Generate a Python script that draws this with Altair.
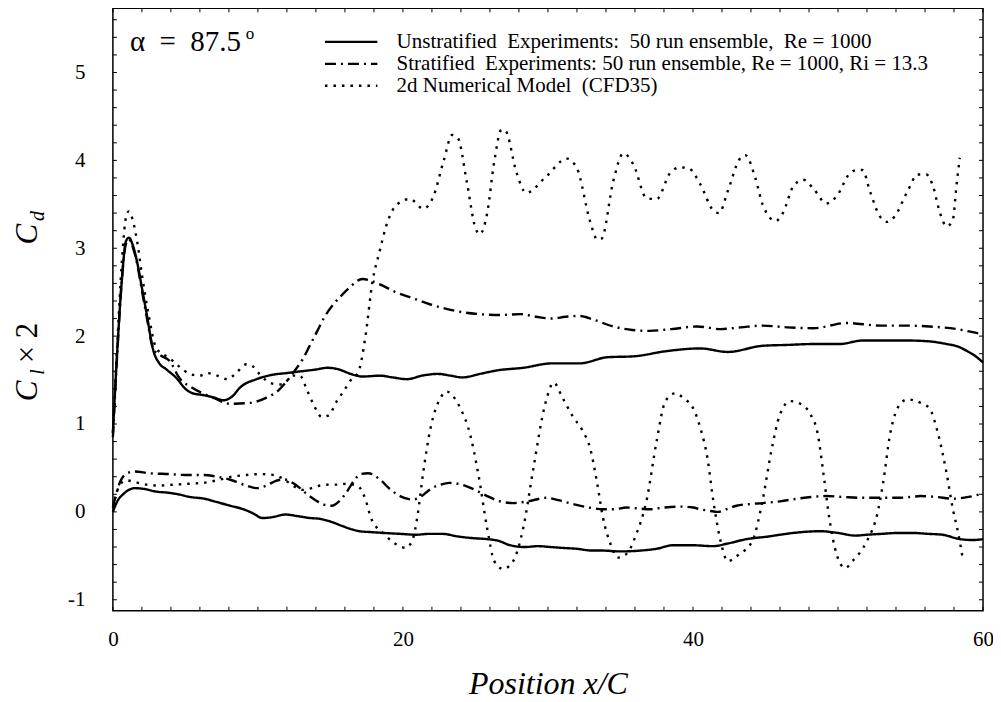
import altair as alt
import pandas as pd

# ---------------- data ----------------
series_names = [
    "Unstratified\u00a0\u00a0Experiments:\u00a0\u00a050 run ensemble,\u00a0\u00a0Re = 1000",
    "Stratified\u00a0\u00a0Experiments: 50 run ensemble, Re = 1000, Ri = 13.3",
    "2d Numerical Model\u00a0\u00a0(CFD35)",
]

# Unstratified, drag
uns_cd_x = [0, 0.3, 0.6, 0.9, 1.1, 1.4, 1.7, 2.0, 2.3, 2.8, 3.2, 3.7, 4.4, 5.0, 5.5, 6.2, 7.0, 7.6,
            8.2, 8.8, 9.9, 11.0, 12.0, 13.0, 14.0, 14.8, 15.6, 16.4, 17.2, 18.4, 19.3, 20.3, 21.3,
            22.4, 23.3, 24.1, 25.3, 26.5, 28.3, 30.3, 32.2, 34.1, 35.9, 38.2, 40.5, 42.4, 44.8,
            46.5, 48.3, 50.1, 51.7, 53.5, 54.8, 56.3, 57.5, 58.3, 58.9, 59.5, 60.0]
uns_cd_y = [0.9, 1.83, 2.6, 3.08, 3.12, 3.02, 2.82, 2.55, 2.28, 1.83, 1.69, 1.62, 1.52, 1.40, 1.35,
            1.33, 1.30, 1.27, 1.31, 1.42, 1.51, 1.56, 1.58, 1.60, 1.62, 1.64, 1.62, 1.57, 1.54,
            1.55, 1.53, 1.51, 1.55, 1.57, 1.55, 1.53, 1.57, 1.61, 1.64, 1.69, 1.69, 1.76, 1.77,
            1.83, 1.86, 1.82, 1.89, 1.90, 1.91, 1.91, 1.95, 1.95, 1.95, 1.94, 1.91, 1.88, 1.83,
            1.77, 1.70]

# Stratified, drag
str_cd_x = [0, 0.3, 0.6, 0.9, 1.1, 1.4, 1.7, 2.0, 2.3, 2.8, 3.3, 3.9, 4.6, 5.5, 6.9, 8.1, 9.4,
            10.6, 11.4, 12.0, 12.6, 13.1, 13.6, 14.1, 14.6, 15.2, 15.8, 16.3, 17.2, 18.4, 19.5,
            20.7, 21.9, 23.0, 24.2, 25.3, 26.7, 28.1, 29.2, 30.3, 31.2, 32.2, 33.1, 34.5, 35.8,
            37.0, 38.5, 40.3, 41.9, 43.3, 44.8, 46.5, 48.3, 50.6, 52.9, 54.5, 56.3, 58.2, 59.7, 60.0]
str_cd_y = [0.85, 1.8, 2.6, 3.05, 3.1, 3.0, 2.8, 2.52, 2.25, 1.85, 1.78, 1.72, 1.52, 1.41, 1.30,
            1.23, 1.24, 1.30, 1.38, 1.49, 1.62, 1.74, 1.90, 2.06, 2.22, 2.36, 2.47, 2.55, 2.65,
            2.59, 2.50, 2.43, 2.36, 2.31, 2.27, 2.25, 2.24, 2.25, 2.22, 2.20, 2.22, 2.23, 2.19,
            2.11, 2.07, 2.06, 2.08, 2.11, 2.08, 2.10, 2.12, 2.10, 2.09, 2.15, 2.12, 2.12, 2.11,
            2.08, 2.03, 2.02]

# Numerical model, drag
num_cd_x = [0, 0.3, 0.6, 0.9, 1.1, 1.4, 1.7, 2.0, 2.4, 3.0, 3.9, 4.6, 5.3, 6.0, 6.5, 7.2, 7.9,
            8.5, 9.2, 9.7, 10.1, 11.0, 11.7, 12.4, 12.9, 13.4, 13.9, 14.4, 14.9, 15.4, 15.9,
            16.5, 16.9, 17.4, 17.9, 18.4, 18.8, 19.6, 20.5, 21.4, 22.1, 22.8, 23.4, 23.8, 24.4,
            25.0, 25.3, 25.8, 26.3, 26.8, 27.1, 27.8, 28.5, 29.9, 31.3, 32.0, 32.9, 33.4, 33.7,
            34.5, 35.2, 35.9, 36.8, 37.5, 38.4, 39.1, 39.7, 40.5, 41.4, 41.8, 42.4, 43.2, 43.6,
            44.3, 44.8, 45.7, 46.2, 46.9, 47.6, 48.3, 49.2, 49.9, 50.8, 51.3, 51.7, 52.2, 52.9,
            53.4, 53.9, 54.8, 55.5, 56.1, 56.6, 57.0, 57.5, 57.9, 58.2, 58.4]
num_cd_y = [0.9, 1.9, 2.8, 3.35, 3.42, 3.3, 3.05, 2.7, 2.3, 1.86, 1.75, 1.65, 1.57, 1.55, 1.58,
            1.55, 1.51, 1.58, 1.68, 1.65, 1.57, 1.46, 1.45, 1.55, 1.55, 1.38, 1.20, 1.08, 1.10,
            1.25, 1.37, 1.52, 1.58, 1.98, 2.62, 2.97, 3.23, 3.50, 3.56, 3.45, 3.59, 3.99, 4.29,
            4.25, 3.76, 3.23, 3.16, 3.39, 3.99, 4.35, 4.33, 3.88, 3.63, 3.82, 4.02, 3.91, 3.31,
            3.10, 3.11, 3.76, 4.08, 3.95, 3.57, 3.56, 3.85, 3.92, 3.91, 3.73, 3.43, 3.40, 3.65,
            4.01, 4.06, 3.80, 3.50, 3.31, 3.40, 3.70, 3.78, 3.68, 3.51, 3.59, 3.85, 3.89, 3.89,
            3.65, 3.36, 3.30, 3.36, 3.65, 3.84, 3.84, 3.68, 3.42, 3.25, 3.31, 3.76, 4.03]

# Unstratified, lift x 2
uns_cl_x = [0, 0.3, 0.7, 1.1, 1.5, 2.2, 3.0, 3.7, 4.5, 5.3, 6.3, 7.2, 8.1, 9.0, 9.7, 10.3, 11.0,
            11.9, 12.8, 13.6, 14.3, 15.0, 15.8, 16.5, 17.0, 17.8, 18.7, 19.8, 20.9, 21.8, 22.7,
            23.8, 24.9, 25.8, 26.6, 27.4, 28.4, 29.3, 30.2, 31.0, 32.0, 33.0, 33.7, 35.0, 36.4,
            37.5, 38.6, 40.0, 41.4, 42.4, 43.7, 45.2, 46.0, 47.5, 48.8, 50.0, 51.2, 52.0, 53.0,
            54.1, 55.2, 56.2, 57.2, 58.4, 59.3, 60.0]
uns_cl_y = [0.0, 0.12, 0.2, 0.25, 0.27, 0.26, 0.23, 0.22, 0.20, 0.17, 0.15, 0.11, 0.07, 0.03,
            -0.02, -0.07, -0.06, -0.03, -0.05, -0.07, -0.08, -0.11, -0.16, -0.20, -0.22, -0.23,
            -0.24, -0.25, -0.26, -0.25, -0.25, -0.28, -0.30, -0.31, -0.33, -0.38, -0.40, -0.39,
            -0.40, -0.41, -0.42, -0.44, -0.44, -0.45, -0.44, -0.42, -0.38, -0.38, -0.39, -0.36,
            -0.31, -0.28, -0.26, -0.23, -0.22, -0.24, -0.27, -0.26, -0.25, -0.24, -0.24, -0.25,
            -0.26, -0.31, -0.32, -0.31]

# Stratified, lift x 2
str_cl_x = [0, 0.4, 0.9, 1.5, 2.5, 3.9, 5.0, 6.2, 7.2, 8.2, 9.2, 9.9, 10.6, 11.2, 11.8, 12.5,
            13.4, 14.0, 14.6, 15.1, 15.6, 16.1, 16.6, 17.1, 17.6, 18.4, 19.1, 19.8, 20.7, 21.3,
            21.9, 22.6, 23.2, 23.8, 24.4, 25.1, 25.8, 26.7, 27.6, 28.6, 29.9, 30.8, 31.7, 32.8,
            33.8, 34.6, 35.4, 36.2, 37.0, 38.0, 39.1, 40.0, 40.5, 41.2, 41.7, 42.3, 43.0, 44.0,
            44.8, 46.0, 47.2, 48.2, 49.2, 50.3, 51.5, 52.8, 54.1, 55.0, 55.7, 56.8, 57.9, 59.0, 59.8]
str_cl_y = [0.05, 0.3, 0.43, 0.46, 0.44, 0.43, 0.42, 0.42, 0.40, 0.36, 0.30, 0.27, 0.30, 0.35,
            0.37, 0.32, 0.20, 0.13, 0.08, 0.07, 0.12, 0.22, 0.35, 0.43, 0.44, 0.37, 0.26, 0.18,
            0.14, 0.18, 0.26, 0.31, 0.33, 0.32, 0.29, 0.24, 0.18, 0.12, 0.10, 0.12, 0.16, 0.13,
            0.09, 0.05, 0.03, 0.03, 0.05, 0.04, 0.03, 0.05, 0.06, 0.05, 0.03, 0.01, 0.0, 0.03,
            0.07, 0.09, 0.10, 0.12, 0.15, 0.17, 0.18, 0.17, 0.16, 0.16, 0.16, 0.17, 0.18, 0.17,
            0.15, 0.17, 0.20]

# Numerical model, lift x 2
num_cl_x = [0, 0.4, 0.9, 1.5, 2.3, 3.2, 4.2, 5.2, 6.2, 7.2, 8.2, 9.2, 10.2, 11.1, 11.8, 12.5,
            13.1, 13.7, 14.3, 15.0, 15.6, 16.1, 16.6, 17.0, 17.4, 17.8, 18.2, 18.7, 19.2, 19.8,
            20.2, 20.7, 21.0, 21.4, 21.9, 22.6, 23.0, 23.7, 24.1, 24.5, 25.2, 25.8, 26.3, 26.9,
            27.6, 28.3, 29.0, 29.8, 30.4, 31.0, 31.7, 32.4, 32.9, 33.4, 33.8, 34.3, 34.8, 35.4,
            36.1, 36.8, 37.5, 38.1, 38.8, 39.3, 40.1, 40.5, 41.0, 41.4, 41.9, 42.4, 43.2, 44.1,
            44.8, 45.4, 46.0, 46.7, 47.4, 48.1, 48.6, 49.0, 49.4, 49.9, 50.5, 51.0, 52.0, 52.7,
            53.1, 53.6, 54.3, 54.8, 55.7, 56.3, 56.9, 57.5, 57.9, 58.3, 58.6]
num_cl_y = [0.05, 0.28, 0.36, 0.34, 0.31, 0.30, 0.31, 0.32, 0.33, 0.36, 0.40, 0.42, 0.43, 0.42,
            0.37, 0.29, 0.25, 0.27, 0.30, 0.31, 0.31, 0.32, 0.31, 0.28, 0.15, -0.07, -0.18, -0.25,
            -0.33, -0.39, -0.41, -0.30, -0.05, 0.45, 0.95, 1.30, 1.37, 1.26, 1.13, 0.96, 0.43,
            -0.18, -0.56, -0.65, -0.56, -0.18, 0.50, 1.22, 1.47, 1.30, 1.09, 0.92, 0.73, 0.32,
            -0.07, -0.36, -0.52, -0.48, -0.25, 0.13, 0.81, 1.26, 1.35, 1.30, 1.15, 0.96, 0.61,
            0.13, -0.33, -0.56, -0.48, -0.33, 0.13, 0.69, 1.11, 1.26, 1.23, 1.11, 0.89, 0.43,
            -0.07, -0.48, -0.64, -0.56, -0.33, -0.03, 0.32, 0.89, 1.23, 1.28, 1.24, 1.18, 0.89,
            0.43, 0.05, -0.25, -0.53]

x_ticks = [0, 20, 40, 60]
y_ticks = [-1, 0, 1, 2, 3, 4, 5]
x_minor_ticks = list(range(0, 61, 2))
y_minor_ticks = [round(-1.0 + 0.2 * i, 1) for i in range(34)]

# ---------------- tables ----------------
rows = []
for name, part, xs, ys in [
    (series_names[0], "cd_uns", uns_cd_x, uns_cd_y),
    (series_names[1], "cd_str", str_cd_x, str_cd_y),
    (series_names[2], "cd_num", num_cd_x, num_cd_y),
    (series_names[0], "cl_uns", uns_cl_x, uns_cl_y),
    (series_names[1], "cl_str", str_cl_x, str_cl_y),
    (series_names[2], "cl_num", num_cl_x, num_cl_y),
]:
    for xv, yv in zip(xs, ys):
        rows.append({"x": xv, "y": yv, "series": name, "part": part})
df = pd.DataFrame(rows)
xt = pd.DataFrame({"x": x_minor_ticks})
yt = pd.DataFrame({"y": y_minor_ticks})

SERIF = "Liberation Serif"
W, H = 871, 603

x_scale = alt.Scale(domain=[0, 60], nice=False)
y_scale = alt.Scale(domain=[-1.125, 5.73], nice=False, zero=False)
x_axis = alt.Axis(values=x_ticks, title="Position x/C", ticks=False, domain=False,
                  grid=False, labelPadding=18, titlePadding=19, labelFlush=False)
y_axis = alt.Axis(values=y_ticks, title=None, ticks=False, domain=False, grid=False,
                  labelPadding=28, labelFlush=False,
                  labelExpr="datum.value < 0 ? '-' + abs(datum.value) : '' + datum.value")
X = alt.X("x:Q", scale=x_scale, axis=x_axis)
Y = alt.Y("y:Q", scale=y_scale, axis=y_axis)

lines = alt.Chart(df).mark_line(color="black", strokeWidth=2.4, interpolate="monotone").encode(
    x=X,
    y=Y,
    strokeDash=alt.StrokeDash(
        "series:N",
        scale=alt.Scale(domain=series_names, range=[[1, 0], [11, 5, 2, 5], [2.5, 6]]),
        legend=alt.Legend(title=None, orient="none", legendX=228, legendY=23,
                          symbolType="M-5,0H5", symbolSize=110, symbolStrokeWidth=2.3,
                          symbolStrokeColor="black", labelOffset=35, rowPadding=0,
                          padding=0, labelFont=SERIF, labelFontSize=21, labelColor="black",
                          labelLimit=700),
    ),
    detail="part:N",
)

tick_style = dict(color="black", strokeWidth=1)
bottom_ticks = alt.Chart(xt).mark_rule(**tick_style).encode(
    x=X, y=alt.value(H), y2=alt.value(H - 4))
top_ticks = alt.Chart(xt).mark_rule(**tick_style).encode(
    x=X, y=alt.value(0), y2=alt.value(4))
left_ticks = alt.Chart(yt).mark_rule(**tick_style).encode(
    y=Y, x=alt.value(0), x2=alt.value(4))
right_ticks = alt.Chart(yt).mark_rule(**tick_style).encode(
    y=Y, x=alt.value(W), x2=alt.value(W - 4))


def txt(s, x, y, size, style="normal", angle=0, align="left", baseline="alphabetic"):
    return alt.Chart(pd.DataFrame({"t": [s]})).mark_text(
        font=SERIF, fontSize=size, fontStyle=style, angle=angle, align=align,
        baseline=baseline, color="black"
    ).encode(text="t:N", x=alt.value(x), y=alt.value(y))


annot = [
    txt("\u03b1\u00a0\u00a0=\u00a0\u00a087.5", 17, 43, 29),
    txt("o", 133, 31, 17),
    # y-axis title: C_l x 2   C_d  (rotated)
    txt("C", -76, 383, 31, "italic", 270, "center"),
    txt("l", -69, 364, 20, "italic", 270, "center"),
    txt("\u00d7 2", -76, 335, 31, "normal", 270, "center"),
    txt("C", -76, 226, 31, "italic", 270, "center"),
    txt("d", -69, 208, 20, "italic", 270, "center"),
]

chart = alt.layer(lines, bottom_ticks, top_ticks, left_ticks, right_ticks, *annot).properties(
    width=W, height=H,
    padding={"left": 105, "top": 0, "right": 10, "bottom": 90},
    autosize="none",
).configure_view(stroke="black", strokeWidth=1.5).configure_axis(
    labelFont=SERIF, labelFontSize=21, labelColor="black",
    titleFont=SERIF, titleFontSize=32, titleFontStyle="italic", titleFontWeight="normal",
    titleColor="black",
)

chart.save("out.html", embed_options={"renderer": "svg", "actions": False})
